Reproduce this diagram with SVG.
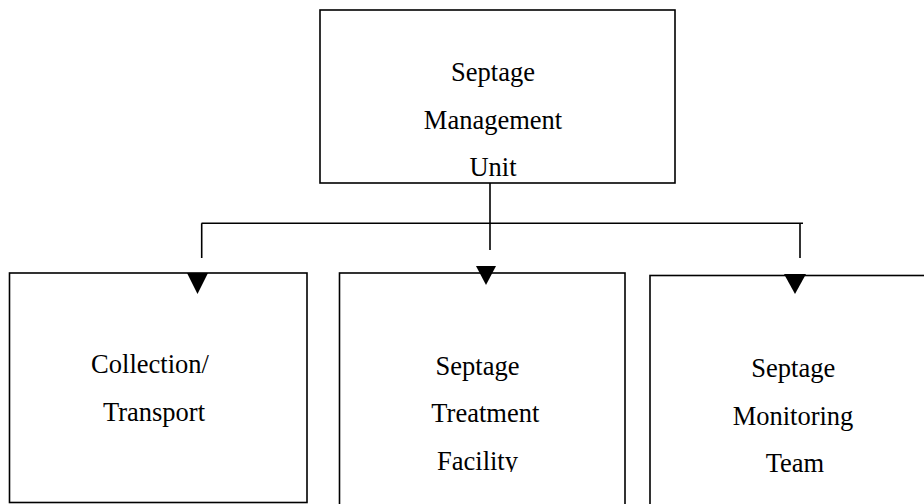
<svg xmlns="http://www.w3.org/2000/svg" width="924" height="504" viewBox="0 0 924 504">
<style>
.box{fill:#fff;stroke:#000;stroke-width:1.6}
.ln{stroke:#000;stroke-width:1.6;fill:none}
.ah{fill:#000;stroke:none}
text{font-family:"Liberation Serif","Times New Roman",serif;font-size:26.5px;fill:#000;text-anchor:middle}
</style>
<defs>
<clipPath id="clipMid"><rect x="340" y="273" width="285" height="199"/></clipPath>
</defs>
<rect width="924" height="504" fill="#fff"/>
<g id="node-smu">
<rect class="box" x="320" y="10" width="355" height="173"/>
<text x="493" y="81">Septage</text>
<text x="493" y="128.5">Management</text>
<text x="493" y="175.5">Unit</text>
</g>
<g id="connectors">
<line class="ln" x1="490" y1="183" x2="490" y2="250"/>
<line class="ln" x1="201.5" y1="223.3" x2="803" y2="223.3"/>
<line class="ln" x1="201.7" y1="223.3" x2="201.7" y2="258"/>
<line class="ln" x1="800" y1="223.3" x2="800" y2="258"/>
</g>
<g id="node-collection">
<rect class="box" x="9.5" y="273" width="297.5" height="229.5"/>
<text x="150" y="373">Collection/</text>
<text x="154" y="421">Transport</text>
</g>
<g id="node-treatment">
<rect class="box" x="339.5" y="273" width="285.5" height="240"/>
<g clip-path="url(#clipMid)">
<text x="477.5" y="375">Septage</text>
<text x="485.3" y="422.3">Treatment</text>
<text x="477.5" y="470">Facility</text>
</g>
</g>
<g id="node-monitoring">
<rect class="box" x="650" y="275.5" width="290" height="240"/>
<text x="793.3" y="376.7">Septage</text>
<text x="793" y="425">Monitoring</text>
<text x="795" y="472.3">Team</text>
</g>
<g id="arrowheads">
<polygon class="ah" points="187,273 208,273 197.5,294"/>
<polygon class="ah" points="476,266 496,266 486,285"/>
<polygon class="ah" points="784,274 806,274 795,294"/>
</g>
</svg>
